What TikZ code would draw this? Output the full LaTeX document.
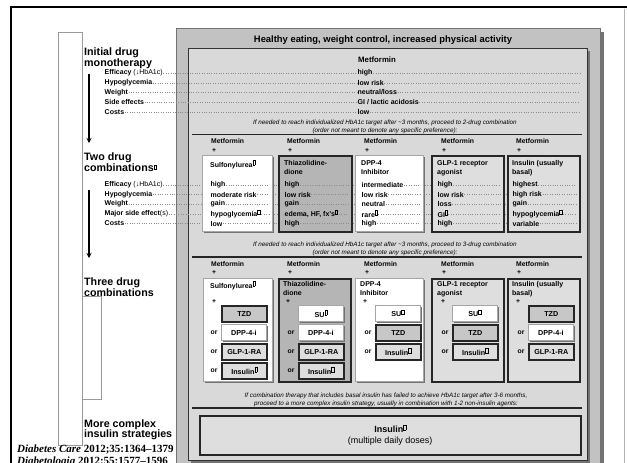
\documentclass[tikz,border=0pt]{standalone}
\usepackage{fontspec}
\setmainfont{Liberation Sans}
\newfontfamily\citefont{Liberation Serif}
\usetikzlibrary{arrows.meta,shadows}

\newcommand{\fsz}[2]{\fontsize{#1}{#2}\selectfont}
% 각주 표시 자리의 빈 네모 (가는 것, 굵은 것)
\newcommand{\gl}{\raisebox{2.5pt}{\fboxsep=0pt\fboxrule=0.35pt\fbox{\rule{0pt}{4.5pt}\hspace{2pt}}}}
\newcommand{\glb}{\raisebox{2.5pt}{\fboxsep=0pt\fboxrule=0.9pt\fbox{\rule{0pt}{3.5pt}\hspace{1.5pt}}}}
% 셋째 단계 — 한 칸의 단추들, 둘째부터 or
\newcommand{\btncol}[3]{%
  \foreach \s/\t [count=\i] in {#3} {
    \node[\s] (k3#1\i) at (#2,{286+19*\i}) {\t};
    \ifnum\i>1 \node[ortxt] (or3#1\i) at ([xshift=-7pt]k3#1\i.west) {or};\fi
  }}

\tikzset{
  shd/.style={drop shadow={shadow xshift=#1, shadow yshift=-#1, fill=black!55, opacity=1}},
  panel/.style={anchor=north west, inner sep=0pt, fill=black!24, draw=black!55, line width=1pt, shd=3pt},
  inpanel/.style={anchor=north west, inner sep=0pt, fill=black!15, draw=black!80, line width=1.2pt, shd=2.5pt},
  litebox/.style={anchor=north west, inner sep=0pt, fill=white, draw=black!35, line width=0.8pt, shd=1.5pt},
  darkbox/.style={anchor=north west, inner sep=0pt, fill=black!29, draw=black!85, line width=1.5pt, shd=1.2pt},
  midbox/.style={anchor=north west, inner sep=0pt, fill=black!13, draw=black!85, line width=1.5pt, shd=1.2pt},
  btn/.style={minimum width=45pt, minimum height=16pt, font=\fsz{7.2}{8}\bfseries},
  litebtn/.style={litebox, btn},
  darkbtn/.style={darkbox, btn, fill=black!22},
  midbtn/.style={midbox, btn},
  stage/.style={anchor=north west, inner sep=0pt, align=left, font=\fsz{10.7}{10}\bfseries},
  lbl/.style={anchor=west, inner sep=0.5pt, font=\fsz{7}{8}\bfseries},
  ttl/.style={anchor=north west, inner sep=0pt, align=left, font=\fsz{7}{9}\bfseries},
  hdr/.style={anchor=west, inner sep=0pt, font=\fsz{6.8}{8}\bfseries},
  ortxt/.style={inner sep=0pt, font=\fsz{6.8}{8}\bfseries},
  note/.style={inner sep=0pt, align=center, font=\fsz{6.3}{7.8}\itshape},
  dots/.style={black!45, dotted, line width=0.4pt},
  sep/.style={black!85, line width=1.3pt},
  down/.style={line width=1.6pt, -{Stealth[length=5pt,width=5pt]}},
}

\begin{document}
\begin{tikzpicture}[x=1pt, y=-1pt]
  \useasboundingbox (0,0) rectangle (627,463);
  \clip (0,0) rectangle (627,463);
  % 바탕과 바깥 테두리
  \fill[white] (0,0) rectangle (627,463);
  \draw[line width=2.2pt] (11,463) -- (11,7) -- (627,7);
  \draw[black!30, line width=0.6pt] (624,9) -- (624,463);
  \draw[black!40, fill=white, line width=0.5pt] (58,32) rectangle (82,445);

  % 회색 판 — 바깥(제목줄)과 안쪽
  \node[panel, minimum width=424pt, minimum height=460pt] (outer) at (176,28) {};
  \node[font=\fsz{9.4}{10}\bfseries, inner sep=0pt] (title) at (383,40)
    {Healthy eating, weight control, increased physical activity};
  \node[inpanel, minimum width=399pt, minimum height=412pt] (inner) at (188,48) {};

  % 왼쪽 단계 이름과 화살표
  \node[stage] (s1) at (84,48) {Initial drug\\monotherapy};
  \node[stage] (s2) at (84,153) {Two drug\\combinations\gl};
  \node[stage] (s3) at (84,277.5) {Three drug\\combinations};
  \node[stage] (s4) at (84,419.5) {More complex\\insulin strategies};
  \draw[black!40, fill=white, line width=0.5pt] (82,296) rectangle (101,399);
  \coordinate (a1t) at (89,74);  \coordinate (a1b) at (89,143);
  \coordinate (a2t) at (89,190); \coordinate (a2b) at (89,258);
  \draw[down] (a1t) -- (a1b);
  \draw[down] (a2t) -- (a2b);

  % 단일 요법 — 항목, 값, 점선
  \node[font=\fsz{7.8}{9}\bfseries, anchor=west, inner sep=0pt] (met1) at (358,60) {Metformin};
  \foreach \n/\t/\y/\v in {a/{Efficacy {\mdseries(↓HbA1c)}}/73/high, b/Hypoglycemia/83/low risk,
      c/Weight/92.5/{neutral/loss}, d/Side effects/102/{GI / lactic acidosis}, e/Costs/112/low} {
    \node[lbl] (l1\n) at (104,\y) {\t};
    \node[lbl] (v1\n) at (357,\y) {\v};
    \draw[dots] (l1\n.east) -- (v1\n.west);
    \draw[dots] (v1\n.east) -- (580,\y);
  }
  \node[note] (n1) at (385,127) {If needed to reach individualized HbA1c target after \textasciitilde 3 months, proceed to 2-drug combination\\(order not meant to denote any specific preference):};
  \draw[sep] (192,134.5) -- (582,134.5);

  % 두 약 병용
  \foreach \x [count=\i] in {211,287,364,441,516} {
    \node[hdr] (mf2\i) at (\x,141.5) {Metformin};
    \node[hdr] (pl2\i) at (\x+1,150.5) {+};
  }
  \foreach \n/\t/\y in {a/{Efficacy {\mdseries(↓HbA1c)}}/185, b/Hypoglycemia/194.5, c/Weight/204,
      d/{Major side effect{\mdseries(s)}}/214, e/Costs/223.5} {
    \node[lbl] (l2\n) at (104,\y) {\t};
    \draw[dots] (l2\n.east) -- (578,\y);
  }
  \foreach \n/\x/\w/\s in {a/202/70pt/litebox, b/278/73pt/darkbox, c/355/68pt/litebox, d/431/72pt/midbox, e/507/72pt/midbox}
    \node[\s, minimum width=\w, minimum height=76pt] (b2\n) at (\x,155) {};
  \node[ttl] (t2a) at (210,160) {Sulfonylurea\gl};
  \node[ttl] (t2b) at (284,160) {Thiazolidine-\\dione};
  \node[ttl] (t2c) at (361,160) {DPP-4\\Inhibitor};
  \node[ttl] (t2d) at (437,160) {GLP-1 receptor\\agonist};
  \node[ttl] (t2e) at (512,160) {Insulin (usually\\basal)};
  \foreach \c/\x/\va/\vb/\vc/\vd/\ve in {a/210/high/moderate risk/gain/hypoglycemia\glb/low,
      b/284/high/low risk/gain/{edema, HF, fx's\glb}/high,
      c/361/intermediate/low risk/neutral/rare\gl/high,
      d/437/high/low risk/loss/GI\gl/high,
      e/512/highest/high risk/gain/hypoglycemia\gl/variable}
    \foreach \v/\y [count=\i] in {\va/185, \vb/194.5, \vc/204, \vd/214, \ve/223.5} {
      \node[lbl] (v2\c\i) at (\x,\y) {\v};
      \draw[dots, shorten >=4pt] (v2\c\i.east) -- (v2\c\i.east -| b2\c.east);
    }
  \node[note] (n2) at (385,249) {If needed to reach individualized HbA1c target after \textasciitilde 3 months, proceed to 3-drug combination\\(order not meant to denote any specific preference):};
  \draw[sep] (192,257) -- (582,257);

  % 세 약 병용
  \foreach \x [count=\i] in {211,287,364,441,516} {
    \node[hdr] (mf3\i) at (\x,264) {Metformin};
    \node[hdr] (pl3\i) at (\x+1,272.5) {+};
  }
  \foreach \n/\x/\w/\s in {a/203/69pt/litebox, b/278/72pt/darkbox, c/355/68pt/litebox, d/431/72pt/midbox, e/507/72pt/midbox}
    \node[\s, minimum width=\w, minimum height=103pt] (b3\n) at (\x,278) {};
  \node[ttl] (t3a) at (210,281) {Sulfonylurea\gl};
  \node[ttl] (t3b) at (283,281) {Thiazolidine-\\dione};
  \node[ttl] (t3c) at (360,281) {DPP-4\\Inhibitor};
  \node[ttl] (t3d) at (437,281) {GLP-1 receptor\\agonist};
  \node[ttl] (t3e) at (512,281) {Insulin (usually\\basal)};
  \foreach \n/\x in {a/212, b/286, c/363, d/441, e/516}
    \node[hdr] (pi3\n) at (\x,302) {+};
  \btncol{a}{221}{darkbtn/TZD, litebtn/DPP-4-i, midbtn/GLP-1-RA, midbtn/Insulin\gl}
  \btncol{b}{298}{litebtn/SU\gl, litebtn/DPP-4-i, midbtn/GLP-1-RA, midbtn/Insulin\glb}
  \btncol{c}{375}{litebtn/SU\glb, darkbtn/TZD, midbtn/Insulin\glb}
  \btncol{d}{452}{litebtn/SU\glb, darkbtn/TZD, midbtn/Insulin\glb}
  \btncol{e}{528}{darkbtn/TZD, litebtn/DPP-4-i, midbtn/GLP-1-RA}
  \node[note] (n3) at (386,399.5) {If combination therapy that includes basal insulin has failed to achieve HbA1c target after 3-6 months,\\proceed to a more complex insulin strategy, usually in combination with 1-2 non-insulin agents:};
  \draw[sep] (192,408) -- (582,408);

  % 복잡한 인슐린 요법
  \node[midbox, minimum width=381pt, minimum height=39pt, align=center, font=\fsz{9}{11}]
    (mdi) at (199,415) {\textbf{Insulin}\gl\\(multiple daily doses)};

  % 출처
  \node[anchor=base west, inner sep=0pt, font=\citefont\fsz{11}{12}\bfseries] (cite1) at (17,452)
    {\textit{Diabetes Care} 2012;35:1364–1379};
  \node[anchor=base west, inner sep=0pt, font=\citefont\fsz{11}{12}\bfseries] (cite2) at (17,464)
    {\textit{Diabetologia} 2012;55:1577–1596};
\end{tikzpicture}
\end{document}
